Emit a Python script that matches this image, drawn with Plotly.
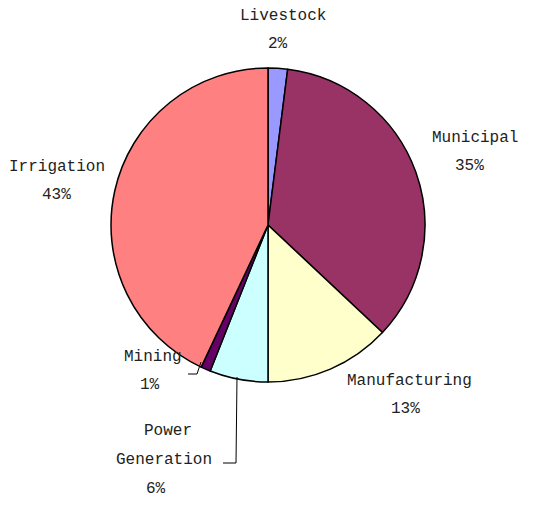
import plotly.graph_objects as go

# Data
categories = ["Livestock", "Municipal", "Manufacturing", "Power Generation", "Mining", "Irrigation"]
shares = [2, 35, 13, 6, 1, 43]
colors = ["#9999FF", "#993366", "#FFFFCC", "#CCFFFF", "#660066", "#FF8080"]

W, H = 540, 506
OFF = 8  # page body margin compensation

def px(x, y):
    return (x - OFF) / W, 1 - (y - OFF) / H

cx, cy, r = 268, 225, 157
x0, y0 = px(cx - r, cy + r)
x1, y1 = px(cx + r, cy - r)

fig = go.Figure(go.Pie(
    labels=categories,
    values=shares,
    sort=False,
    direction="clockwise",
    rotation=0,
    marker=dict(colors=colors, line=dict(color="black", width=1.5)),
    textinfo="none",
    hoverinfo="label+percent",
    domain=dict(x=[x0, x1], y=[y0, y1]),
))

FONT = dict(family="Liberation Mono, Courier New, monospace", size=16, color="#222222")

# label lines: (text, x_px, y_px)
label_lines = [
    ("Livestock", 283, 16), (f"{shares[0]}%", 278, 44),
    ("Municipal", 475, 138), (f"{shares[1]}%", 469, 166),
    ("Manufacturing", 409, 381), (f"{shares[2]}%", 405, 409),
    ("Power", 168, 431), ("Generation", 164, 460), (f"{shares[3]}%", 156, 489),
    ("Mining", 153, 357), (f"{shares[4]}%", 150, 385),
    ("Irrigation", 57, 167), (f"{shares[5]}%", 56, 195),
]
annotations = []
for t, x, y in label_lines:
    ax, ay = px(x, y)
    annotations.append(dict(text=t, x=ax, y=ay, xref="paper", yref="paper",
                            showarrow=False, font=FONT, xanchor="center", yanchor="middle"))

# leader lines
shapes = []
def seg(xa, ya, xb, yb):
    a0, b0 = px(xa, ya)
    a1, b1 = px(xb, yb)
    shapes.append(dict(type="line", xref="paper", yref="paper", x0=a0, y0=b0, x1=a1, y1=b1,
                       line=dict(color="black", width=1)))
seg(201, 362, 197, 374)
seg(197, 374, 188, 374)
seg(237, 377, 236, 463)
seg(236, 463, 223, 463)

fig.update_layout(
    width=W, height=H,
    margin=dict(l=0, r=0, t=0, b=0),
    paper_bgcolor="white",
    plot_bgcolor="white",
    showlegend=False,
    annotations=annotations,
    shapes=shapes,
)

fig.write_html("out.html")
